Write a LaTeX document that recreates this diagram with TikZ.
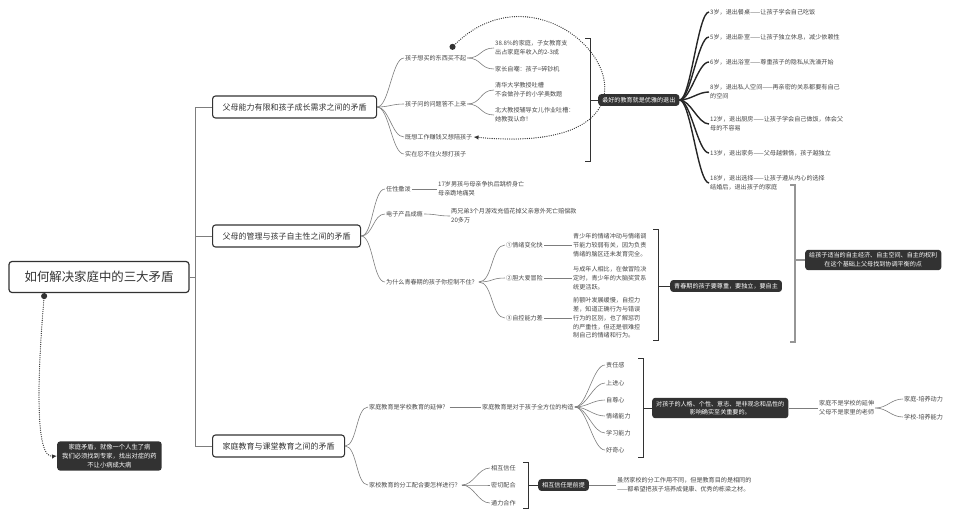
\documentclass[tikz,border=0pt]{standalone}
\usepackage{fontspec}
\setmainfont{Noto Sans CJK SC}
\usetikzlibrary{arrows.meta,positioning}
\definecolor{inkGray}{RGB}{70,70,70}
\definecolor{lineGray}{RGB}{125,125,125}
\definecolor{darkBox}{RGB}{50,50,50}
\definecolor{sumGray}{RGB}{150,150,150}

\begin{document}
\begin{tikzpicture}[x=1pt, y=-1pt,
    root/.style={draw=darkBox, line width=1.2pt, rounded corners=3pt, minimum width=180pt, minimum height=31pt, font=\fontsize{12.4}{14}\selectfont, text=darkBox},
    branch/.style={draw=darkBox, line width=1.1pt, rounded corners=3pt, anchor=west, minimum height=22pt, inner xsep=10pt, font=\fontsize{8}{10}\selectfont, text=darkBox},
    leaf/.style={anchor=west, inner sep=1pt, align=left, text=inkGray, font=\fontsize{6.1}{8.7}\selectfont},
    dark/.style={anchor=west, fill=darkBox, text=white, rounded corners=3pt, inner xsep=4pt, inner ysep=3pt, align=center, font=\fontsize{6.1}{8.7}\selectfont},
    link/.style={draw=lineGray, line width=0.6pt},
    bold link/.style={draw=black!85, line width=1.4pt},
    curvy/.style={to path={.. controls +(#1,0) and +(-#1,0) .. (\tikztotarget)}},
    curvy/.default=12,
    brace/.style={draw=darkBox, line width=0.8pt},
    big brace/.style={draw=sumGray, line width=1.6pt},
    relation/.style={draw=darkBox, line width=1.3pt, dash pattern=on 0pt off 2.2pt, line cap=round, {Circle[length=6pt,line cap=butt]}-{Latex[length=5pt,width=4.5pt]}}
  ]
  \useasboundingbox (0,0) rectangle (960,527);

  % root and note
  \node[root] (root) at (99,277) {如何解决家庭中的三大矛盾};
  \node[dark, font=\fontsize{6.3}{8.7}\selectfont, inner xsep=5pt] (note) at (57,456) {家庭矛盾，就像一个人生了病\\我们必须找到专家，找出对症的药\\不让小病成大病};

  % three contradictions
  \node[branch] (b1) at (212,107) {父母能力有限和孩子成长需求之间的矛盾};
  \node[branch] (b2) at (212,236) {父母的管理与孩子自主性之间的矛盾};
  \node[branch] (b3) at (212,446) {家庭教育与课堂教育之间的矛盾};

  \draw[link] (root.east) -- ++(6,0) |- (b1.west);
  \draw[link] (root.east) -- ++(6,0) |- (b2.west);
  \draw[link] (root.east) -- ++(6,0) |- (b3.west);

  % branch 1
  \node[leaf] (want) at (404,58) {孩子想买的东西买不起};
  \node[leaf] (ask) at (404,104) {孩子问的问题答不上来};
  \node[leaf] (work) at (404,137) {既想工作赚钱又想陪孩子};
  \node[leaf] (angry) at (404,154) {实在忍不住火想打孩子};
  \node[leaf] (cost) at (494,48) {38.8\%的家庭，子女教育支\\出占家庭年收入的2-3成};
  \node[leaf] (joke) at (494,69) {家长自嘲：孩子=碎钞机};
  \node[leaf] (qinghua) at (494,90) {清华大学教授吐槽\\不会做孙子的小学奥数题};
  \node[leaf] (beida) at (494,115) {北大教授辅导女儿作业吐槽：\\她教我认命！};

  \draw[link] (b1.east) to[curvy] (want.west);
  \draw[link] (b1.east) to[curvy] (ask.west);
  \draw[link] (b1.east) to[curvy] (work.west);
  \draw[link] (b1.east) to[curvy] (angry.west);
  \draw[link] (want.east) to[curvy=14] (cost.west);
  \draw[link] (want.east) to[curvy=14] (joke.west);
  \draw[link] (ask.east) to[curvy=14] (qinghua.west);
  \draw[link] (ask.east) to[curvy=14] (beida.west);

  \coordinate (s1 top) at (590,38);
  \coordinate (s1 bot) at (590,161);
  \coordinate (s1 mid) at (590,100);
  \draw[brace] ([xshift=-5pt]s1 top) -- (s1 top) -- (s1 bot) -- ([xshift=-5pt]s1 bot);
  \node[dark] (best) at (598,100) {最好的教育就是优雅的退出};
  \draw[brace] (s1 mid) -- (best.west);

  \node[leaf] (age3) at (709,12) {3岁，退出餐桌——让孩子学会自己吃饭};
  \node[leaf] (age5) at (709,37) {5岁，退出卧室——让孩子独立休息，减少依赖性};
  \node[leaf] (age6) at (709,62) {6岁，退出浴室——尊重孩子的隐私从洗澡开始};
  \node[leaf] (age8) at (709,92) {8岁，退出私人空间——再亲密的关系都要有自己\\的空间};
  \node[leaf] (age12) at (709,124) {12岁，退出厨房——让孩子学会自己做饭，体会父\\母的不容易};
  \node[leaf] (age13) at (709,153) {13岁，退出家务——父母越懒惰，孩子越独立};
  \node[leaf] (age18) at (709,183) {18岁，退出选择——让孩子遵从内心的选择\\结婚后，退出孩子的家庭};

  \draw[bold link] (best.east) to[curvy=11] (age3.west);
  \draw[bold link] (best.east) to[curvy=11] (age5.west);
  \draw[bold link] (best.east) to[curvy=11] (age6.west);
  \draw[bold link] (best.east) to[curvy=11] (age8.west);
  \draw[bold link] (best.east) to[curvy=11] (age12.west);
  \draw[bold link] (best.east) to[curvy=11] (age13.west);
  \draw[bold link] (best.east) to[curvy=11] (age18.west);

  \draw[relation] ([xshift=-17pt,yshift=5pt]want.north east) .. controls (560,-60) and (720,160) .. (work.east);

  % branch 2
  \node[leaf] (tantrum) at (385,189) {任性撒泼};
  \node[leaf] (games) at (385,214) {电子产品成瘾};
  \node[leaf] (why) at (385,282) {为什么青春期的孩子你控制不住？};
  \node[leaf] (jump) at (437,189) {17岁男孩与母亲争执后跳桥身亡\\母亲跪地痛哭};
  \node[leaf] (money) at (450,216) {两兄弟3个月游戏充值花掉父亲意外死亡赔偿款\\20多万};
  \node[leaf] (mood) at (505,245) {①情绪变化快};
  \node[leaf] (risk) at (505,278) {②胆大爱冒险};
  \node[leaf] (control) at (505,318) {③自控能力差};
  \node[leaf] (mood txt) at (572,245) {青少年的情绪冲动与情绪调\\节能力较弱有关，因为负责\\情绪的脑区还未发育完全。};
  \node[leaf] (risk txt) at (572,278) {与成年人相比，在做冒险决\\定时，青少年的大脑奖赏系\\统更活跃。};
  \node[leaf] (control txt) at (572,318) {前额叶发展缓慢，自控力\\差，知道正确行为与错误\\行为的区别，也了解惩罚\\的严重性，但还是很难控\\制自己的情绪和行为。};

  \draw[link] (b2.east) to[curvy] (tantrum.west);
  \draw[link] (b2.east) to[curvy] (games.west);
  \draw[link] (b2.east) to[curvy] (why.west);
  \draw[link] (tantrum.east) -- (jump.west);
  \draw[link] (games.east) to[curvy] (money.west);
  \draw[link] (why.east) to[curvy=14] (mood.west);
  \draw[link] (why.east) to[curvy=14] (risk.west);
  \draw[link] (why.east) to[curvy=14] (control.west);
  \draw[link] (mood.east) -- (mood txt.west);
  \draw[link] (risk.east) -- (risk txt.west);
  \draw[link] (control.east) -- (control txt.west);

  \coordinate (s2 top) at (658,229);
  \coordinate (s2 bot) at (658,340);
  \coordinate (s2 mid) at (658,286);
  \draw[brace] ([xshift=-5pt]s2 top) -- (s2 top) -- (s2 bot) -- ([xshift=-5pt]s2 bot);
  \node[dark] (respect) at (670,286) {青春期的孩子要尊重，要独立，要自主};
  \draw[brace] (s2 mid) -- (respect.west);

  \coordinate (s3 top) at (795,185);
  \coordinate (s3 bot) at (795,342);
  \coordinate (s3 mid) at (795,260);
  \draw[big brace] ([xshift=-5pt]s3 top) -- (s3 top) -- (s3 bot) -- ([xshift=-5pt]s3 bot);
  \node[dark] (freedom) at (805,260) {给孩子适当的自主经济、自主空间、自主的权利\\在这个基础上父母找到协调平衡的点};
  \draw[big brace] (s3 mid) -- (freedom.west);

  % branch 3
  \node[leaf] (ext) at (368,407) {家庭教育是学校教育的延伸？};
  \node[leaf] (split) at (368,485) {家校教育的分工配合要怎样进行？};
  \node[leaf] (build) at (481,407) {家庭教育是对于孩子全方位的构造};
  \node[leaf] (duty) at (605,365) {责任感};
  \node[leaf] (drive) at (605,383) {上进心};
  \node[leaf] (pride) at (605,400) {自尊心};
  \node[leaf] (emotion) at (605,416) {情绪能力};
  \node[leaf] (study) at (605,433) {学习能力};
  \node[leaf] (curious) at (605,450) {好奇心};

  \draw[link] (b3.east) to[curvy] (ext.west);
  \draw[link] (b3.east) to[curvy] (split.west);
  \draw[link] (ext.east) -- (build.west);
  \draw[link] (build.east) to[curvy] (duty.west);
  \draw[link] (build.east) to[curvy] (drive.west);
  \draw[link] (build.east) to[curvy] (pride.west);
  \draw[link] (build.east) to[curvy] (emotion.west);
  \draw[link] (build.east) to[curvy] (study.west);
  \draw[link] (build.east) to[curvy] (curious.west);

  \coordinate (s4 top) at (643,358);
  \coordinate (s4 bot) at (643,457);
  \coordinate (s4 mid) at (643,408);
  \draw[brace] ([xshift=-5pt]s4 top) -- (s4 top) -- (s4 bot) -- ([xshift=-5pt]s4 bot);
  \node[dark] (impact) at (652,408) {对孩子的人格、个性、意志、是非观念和品性的\\影响确实至关重要的。};
  \draw[brace] (s4 mid) -- (impact.west);

  \node[leaf] (not school) at (818,408) {家庭不是学校的延伸\\父母不是家里的老师};
  \node[leaf] (home) at (903,399) {家庭-培养动力};
  \node[leaf] (school) at (903,417) {学校-培养能力};
  \draw[link] (impact.east) -- (not school.west);
  \draw[link] (not school.east) to[curvy] (home.west);
  \draw[link] (not school.east) to[curvy] (school.west);

  \node[leaf] (trust) at (490,468) {相互信任};
  \node[leaf] (coop) at (490,485) {密切配合};
  \node[leaf] (team) at (490,503) {通力合作};
  \draw[link] (split.east) to[curvy] (trust.west);
  \draw[link] (split.east) to[curvy] (coop.west);
  \draw[link] (split.east) to[curvy] (team.west);

  \coordinate (s5 top) at (528,462);
  \coordinate (s5 bot) at (528,508);
  \coordinate (s5 mid) at (528,485);
  \draw[brace] ([xshift=-5pt]s5 top) -- (s5 top) -- (s5 bot) -- ([xshift=-5pt]s5 bot);
  \node[dark] (premise) at (538,485) {相互信任是前提};
  \draw[brace] (s5 mid) -- (premise.west);

  \node[leaf] (goal) at (616,485) {虽然家校的分工作用不同，但是教育目的是相同的\\——都希望把孩子培养成健康、优秀的栋梁之材。};
  \draw[link] (premise.east) -- (goal.west);

  \draw[relation] ([xshift=36pt]root.south west) .. controls (38,370) and (34,458) .. (note.west);
\end{tikzpicture}
\end{document}
